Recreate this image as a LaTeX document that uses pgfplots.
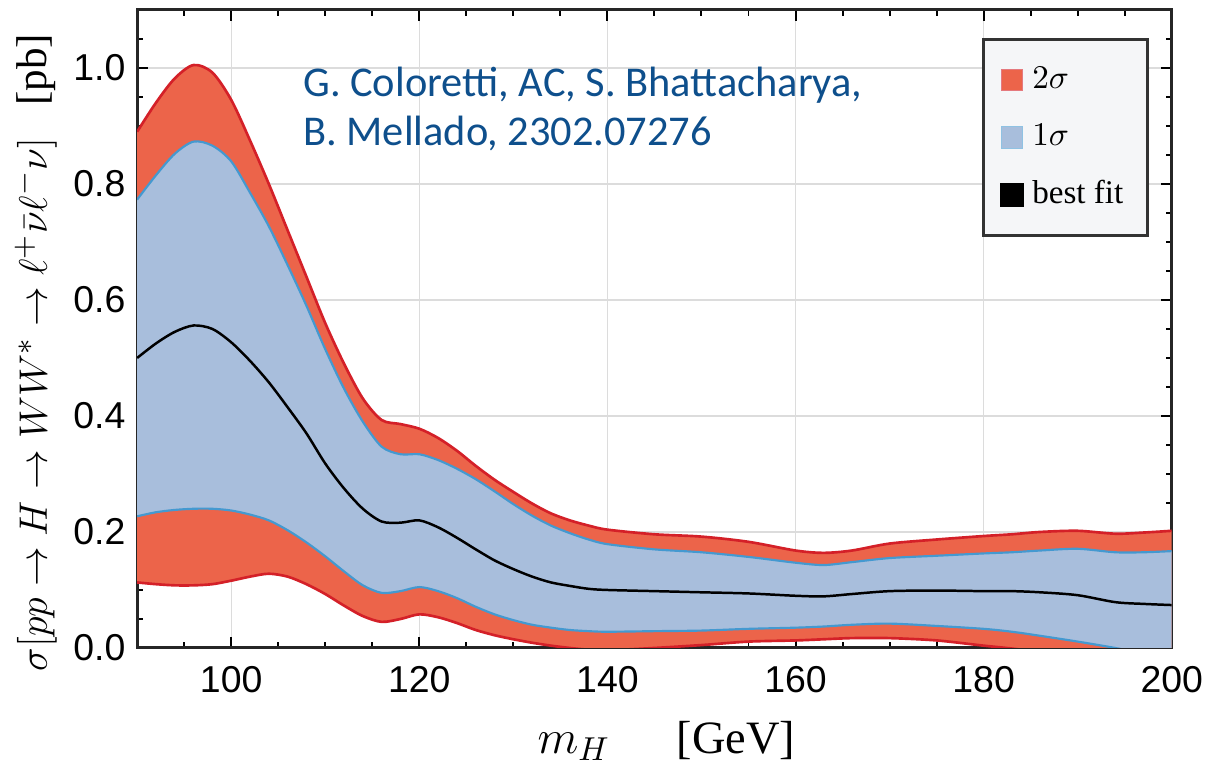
\documentclass[border=0pt]{standalone}
\usepackage{fontspec}
\setmainfont{Liberation Serif}
\newfontfamily\helv{Liberation Sans}
\newfontfamily\carlito{Carlito}
\usepackage{pgfplots}
\pgfplotsset{compat=1.18}
\usepgfplotslibrary{fillbetween}
\usepackage{pgfplotstable}
\definecolor{redfill}{HTML}{EC644A}
\definecolor{rededge}{HTML}{D42028}
\definecolor{bluefill}{HTML}{A8BEDC}
\definecolor{blueedge}{HTML}{4499D0}
\definecolor{gridgray}{HTML}{DCDCDC}
\definecolor{legbg}{HTML}{F5F6F8}
\definecolor{annot}{HTML}{0E4F8C}

\pgfplotstableread{
m    r2u    r1u    bf     r1l    r2l
90   0.890  0.773  0.500  0.227  0.113
92   0.940  0.815  0.525  0.234  0.110
94   0.982  0.852  0.545  0.238  0.108
96   1.005  0.873  0.556  0.240  0.108
98   0.992  0.866  0.550  0.240  0.110
100  0.945  0.839  0.527  0.237  0.116
102  0.875  0.785  0.495  0.230  0.123
104  0.800  0.727  0.458  0.220  0.128
106  0.720  0.660  0.415  0.203  0.123
108  0.640  0.590  0.370  0.182  0.110
110  0.560  0.515  0.318  0.158  0.093
112  0.490  0.447  0.275  0.132  0.073
114  0.430  0.390  0.240  0.108  0.055
116  0.393  0.347  0.218  0.095  0.045
118  0.386  0.334  0.216  0.098  0.050
120  0.378  0.334  0.220  0.105  0.058
122  0.362  0.324  0.208  0.098  0.053
124  0.340  0.309  0.190  0.086  0.043
126  0.314  0.291  0.170  0.071  0.031
128  0.290  0.270  0.151  0.058  0.022
130  0.269  0.248  0.136  0.048  0.015
132  0.249  0.228  0.123  0.040  0.009
134  0.232  0.211  0.113  0.035  0.004
136  0.220  0.198  0.107  0.031  0.000
138  0.211  0.187  0.102  0.029  -0.003
140  0.204  0.179  0.100  0.028  -0.004
145  0.196  0.170  0.098  0.029  0.000
150  0.192  0.165  0.096  0.030  0.005
155  0.183  0.157  0.094  0.033  0.011
160  0.168  0.147  0.090  0.035  0.013
163  0.164  0.143  0.089  0.037  0.015
166  0.168  0.148  0.093  0.040  0.017
170  0.180  0.155  0.098  0.042  0.017
175  0.187  0.159  0.099  0.038  0.013
180  0.193  0.163  0.098  0.033  0.004
183  0.196  0.165  0.098  0.028  -0.001
186  0.200  0.168  0.096  0.021  -0.007
190  0.202  0.171  0.091  0.011  -0.015
194  0.197  0.165  0.079  0.000  -0.025
197  0.199  0.165  0.076  -0.010 -0.033
200  0.202  0.167  0.074  -0.020 -0.040
}\datatable

\pgfplotsset{layers/mine/.define layer set={axis background,axis grid,pre main,main,axis ticks,axis lines,axis tick labels,axis descriptions,axis foreground}{}}
\tikzset{fill between/on layer=main}

\begin{document}
\begin{tikzpicture}
\begin{axis}[
  set layers=mine,
  scale only axis,
  width=312.3pt, height=192.6pt,
  xmin=90, xmax=200, ymin=0, ymax=1.1,
  xtick={100,120,...,200},
  ytick={0,0.2,...,1.0},
  minor xtick={90,95,...,200},
  minor ytick={0,0.05,...,1.1},
  grid=major,
  major grid style={line width=0.4pt, gridgray},
  minor grid style={draw=none},
  major tick length=3.3pt,
  minor tick length=1.8pt,
  tick style={black, line width=0.6pt},
  axis line style={line width=0.9pt, black!85},
  tick align=inside,
  /pgf/number format/assume math mode=true,
  xticklabel style={font=\helv\fontsize{11.3}{13}\selectfont, yshift=-2pt},
  yticklabel style={font=\helv\fontsize{11.3}{13}\selectfont, /pgf/number format/.cd, fixed, fixed zerofill, precision=1},
  xlabel={$m_H$\quad\hspace{6pt}[GeV]},
  ylabel={$\sigma[pp\to H\to WW^{*}\to \ell^{+}\bar{\nu}\ell^{-}\nu]$\ \ \ [pb]},
  xlabel style={font=\fontsize{14}{16}\selectfont, at={(axis description cs:0.5115,-0.145)}, anchor=center},
  ylabel style={font=\fontsize{13}{15}\selectfont, at={(axis description cs:-0.098,0.463)}, anchor=center},
  legend style={at={(0.817,0.956)}, anchor=north west, fill=legbg, draw=black!80, line width=0.9pt,
    font=\fontsize{10}{12}\selectfont, row sep=8.4pt, inner xsep=4.8pt, inner ysep=7.7pt,
    nodes={inner xsep=2.4pt, inner ysep=0pt, text height=7pt, text depth=2pt}},
  legend cell align=left,
]
\addplot[name path=r2u, draw=none, forget plot, smooth] table[x=m,y=r2u]{\datatable};
\addplot[name path=r2l, draw=none, forget plot, smooth] table[x=m,y=r2l]{\datatable};
\addplot[name path=r1u, draw=none, forget plot, smooth] table[x=m,y=r1u]{\datatable};
\addplot[name path=r1l, draw=none, forget plot, smooth] table[x=m,y=r1l]{\datatable};
\addplot[fill=redfill, draw=none, forget plot] fill between[of=r2u and r2l];
\addplot[fill=bluefill, draw=none, forget plot] fill between[of=r1u and r1l];
\addplot[rededge, line width=0.8pt, smooth, forget plot] table[x=m,y=r2u]{\datatable};
\addplot[rededge, line width=0.8pt, smooth, forget plot] table[x=m,y=r2l]{\datatable};
\addplot[blueedge, line width=0.65pt, smooth, forget plot] table[x=m,y=r1u]{\datatable};
\addplot[blueedge, line width=0.65pt, smooth, forget plot] table[x=m,y=r1l]{\datatable};
\addplot[black, line width=0.75pt, smooth, forget plot] table[x=m,y=bf]{\datatable};
\addlegendimage{legend image code/.code={\fill[redfill, draw=rededge!60, line width=0.3pt] (0pt,-3.25pt) rectangle (6.5pt,3.25pt);}}
\addlegendentry{$2\sigma$}
\addlegendimage{legend image code/.code={\fill[bluefill, draw=blueedge!60, line width=0.3pt] (0pt,-3.25pt) rectangle (6.5pt,3.25pt);}}
\addlegendentry{$1\sigma$}
\addlegendimage{legend image code/.code={\fill[black] (0pt,-3.25pt) rectangle (6.5pt,3.25pt);}}
\addlegendentry{best fit}
\node[anchor=base west, inner sep=0pt, font=\carlito\fontsize{12.8}{14}\selectfont, text=annot] at (rel axis cs:0.160,0.865) {G. Coloretti, AC, S. Bhattacharya,};
\node[anchor=base west, inner sep=0pt, font=\carlito\fontsize{12.8}{14}\selectfont, text=annot] at (rel axis cs:0.160,0.787) {B. Mellado, 2302.07276};
\end{axis}
\path (-41.4pt,-37.2pt) rectangle (322.8pt,195.6pt);
\end{tikzpicture}
\end{document}
